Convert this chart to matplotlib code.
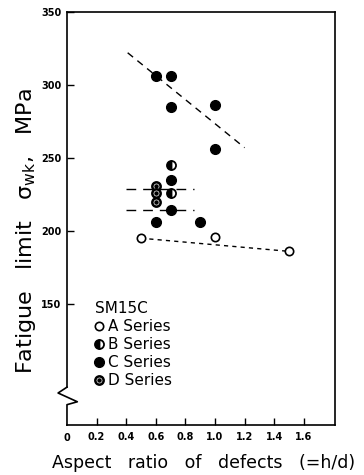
import matplotlib
matplotlib.use("Agg")
import matplotlib.pyplot as plt
from matplotlib.lines import Line2D
from matplotlib.legend_handler import HandlerTuple

plt.rcParams['font.family'] = ['DejaVu Sans']
plt.rcParams['mathtext.default'] = 'regular'

## data
a_x = [0.5, 1.0, 1.5]
a_y = [195, 196, 186]

b_x = [0.7, 0.7]
b_y = [245, 226]

c_x = [0.6, 0.7, 0.7, 1.0, 1.0, 0.7, 0.7, 0.6, 0.9]
c_y = [306, 306, 285, 286, 256, 235, 214, 206, 206]

d_x = [0.6, 0.6, 0.6]
d_y = [231, 226, 220]

# fitted trend lines (end points)
c_fit_x = [0.41, 1.2]
c_fit_y = [322, 257]
a_fit_x = [0.5, 1.5]
a_fit_y = [195, 186]
band_x = [0.4, 0.86]
band_y = [229, 214]

x_ticks = [0.2, 0.4, 0.6, 0.8, 1.0, 1.2, 1.4, 1.6]
x_labels = ['0.2', '0.4', '0.6', '0.8', '1.0', '1.2', '1.4', '1.6']
y_ticks = [150, 200, 250, 300, 350]


fig = plt.figure(figsize=(3.64, 4.75), dpi=100)
ax = fig.add_axes([0.184, 0.105, 0.736, 0.870])

ax.set_xlim(0, 1.81)
ax.set_ylim(67, 350)

## trend lines
ax.plot(c_fit_x, c_fit_y, color='black', lw=1.0, dashes=(5, 4))
ax.plot(a_fit_x, a_fit_y, color='black', lw=1.0, dashes=(3, 3))
for yy in band_y:
    ax.plot(band_x, [yy, yy], color='black', lw=1.0, dashes=(7, 5))

## markers
ax.plot(a_x, a_y, 'o', ms=6, mfc='white', mec='black', mew=1.2, zorder=3)
ax.plot(c_x, c_y, 'o', ms=7, mfc='black', mec='black', zorder=3)
ax.plot(b_x, b_y, 'o', ms=6.5, fillstyle='left', mfc='black', mfcalt='white',
        mec='black', mew=1.3, zorder=3)
ax.plot(d_x, d_y, 'o', ms=6, mfc='white', mec='black', mew=1.8, zorder=3)
ax.plot(d_x, d_y, 'o', ms=2.2, mfc='black', mec='black', zorder=4)

## axes cosmetics
ax.set_xticks(x_ticks)
ax.set_xticklabels(x_labels, fontsize=7, fontweight='bold')
ax.set_yticks(y_ticks)
ax.set_yticklabels([str(v) for v in y_ticks], fontsize=7, fontweight='bold')
ax.tick_params(direction='in', length=5, width=1.0, pad=4)
ax.tick_params(axis='x', pad=5)
ax.text(0, -0.0195, '0', transform=ax.get_xaxis_transform(), ha='center', va='top',
        fontsize=7, fontweight='bold')

for s in ax.spines.values():
    s.set_linewidth(1.2)

# broken y axis
ax.spines['left'].set_bounds(93, 350)
ax.plot([0, -0.06, 0.07, 0, 0], [93, 89, 83, 81, 67], color='black', lw=1.2,
        clip_on=False, zorder=5)

ax.set_ylabel(r'Fatigue   limit   $\sigma_{wk}$,   MPa', fontsize=16)
ax.yaxis.set_label_coords(-0.11, 0.47)
ax.set_xlabel('Aspect   ratio   of   defects   (=h/d)', fontsize=12.5)
ax.xaxis.set_label_coords(0.51, -0.07)

## legend
h_a = Line2D([], [], ls='none', marker='o', ms=6, mfc='white', mec='black', mew=1.2)
h_b = Line2D([], [], ls='none', marker='o', ms=6.5, fillstyle='left', mfc='black',
             mfcalt='white', mec='black', mew=1.3)
h_c = Line2D([], [], ls='none', marker='o', ms=7, mfc='black', mec='black')
h_d1 = Line2D([], [], ls='none', marker='o', ms=6, mfc='white', mec='black', mew=1.8)
h_d2 = Line2D([], [], ls='none', marker='o', ms=2.2, mfc='black', mec='black')
leg = ax.legend([h_a, h_b, h_c, (h_d1, h_d2)],
                ['A Series', 'B Series', 'C Series', 'D Series'],
                handler_map={tuple: HandlerTuple(ndivide=1)},
                title='SM15C', title_fontsize=11, fontsize=11,
                loc='upper left', bbox_to_anchor=(0.08, 0.315),
                frameon=False, handlelength=0.6, handletextpad=0.25,
                labelspacing=0.2, borderaxespad=0, alignment='left')

fig.savefig('out.png', dpi=100)
